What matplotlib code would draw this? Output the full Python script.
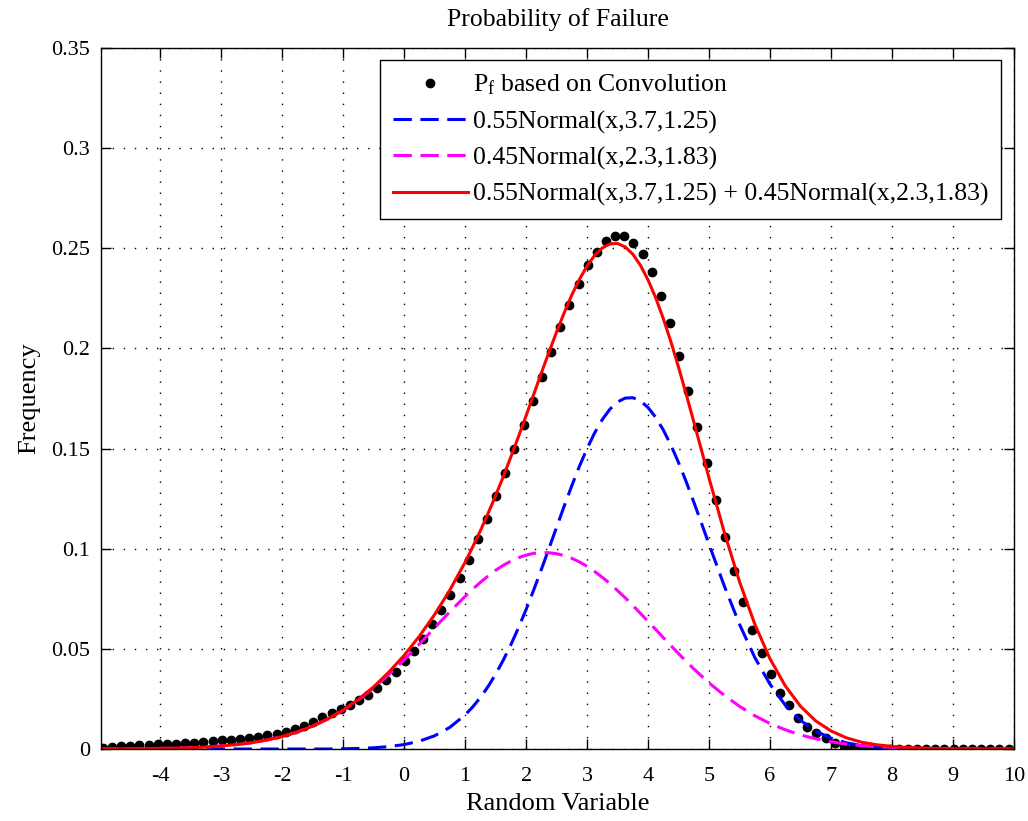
import numpy as np
import matplotlib
matplotlib.use("Agg")
from matplotlib import pyplot as plt

plt.rcParams["font.family"] = ["Liberation Serif", "DejaVu Serif"]
plt.rcParams["mathtext.fontset"] = "custom"
plt.rcParams["mathtext.rm"] = "Liberation Serif"
plt.rcParams["mathtext.it"] = "Liberation Serif:italic"
plt.rcParams["axes.unicode_minus"] = False

# convolution result, one point every 0.15
x_conv = np.linspace(-4.94, 9.91, 100)
pf_conv = [
    0.0004, 0.0012, 0.0015, 0.0017, 0.0019, 0.0021, 0.0023, 0.0025, 0.0027, 0.0029,
    0.0031, 0.0035, 0.0039, 0.0043, 0.0047, 0.0051, 0.0056, 0.0062, 0.0069, 0.0077,
    0.0086, 0.0098, 0.0116, 0.0137, 0.0158, 0.0179, 0.0200, 0.0220, 0.0243, 0.0272,
    0.0306, 0.0345, 0.0386, 0.0437, 0.0488, 0.0550, 0.0622, 0.0696, 0.0770, 0.0852,
    0.0946, 0.1048, 0.1150, 0.1262, 0.1378, 0.1496, 0.1616, 0.1740, 0.1858, 0.1980,
    0.2107, 0.2215, 0.2323, 0.2418, 0.2482, 0.2537, 0.2560, 0.2560, 0.2527, 0.2470,
    0.2382, 0.2260, 0.2127, 0.1963, 0.1790, 0.1610, 0.1428, 0.1242, 0.1058, 0.0887,
    0.0732, 0.0595, 0.0480, 0.0372, 0.0282, 0.0220, 0.0155, 0.0108, 0.0078, 0.0053,
    0.0030, 0.0014, 0.0006, 0.0003, 0.0002, 0.0001, 0.0, 0.0, 0.0, 0.0,
    0.0, 0.0, 0.0, 0.0, 0.0, 0.0, 0.0, 0.0, 0.0, 0.0,
]

# fitted curves: 0.25 steps in the tails, 0.125 steps between 1 and 5
x_fit = np.concatenate([np.linspace(-5, 0.75, 24),
                        np.linspace(1, 5, 33),
                        np.linspace(5.25, 10, 20)])
normal_a = [
    0.0, 0.0, 0.0, 0.0, 0.0, 0.0, 0.0, 0.0, 0.0, 0.0, 0.0, 0.0, 0.0, 0.0, 0.0, 0.0,
    0.0001, 0.0003, 0.0006, 0.0012, 0.0022, 0.0039, 0.0066, 0.0108,
    0.0170, 0.0210, 0.0257, 0.0311, 0.0373, 0.0443, 0.0520, 0.0605, 0.0696, 0.0794,
    0.0896, 0.1001, 0.1107, 0.1213, 0.1315, 0.1412, 0.1500, 0.1579, 0.1645, 0.1697,
    0.1733, 0.1752, 0.1754, 0.1738, 0.1705, 0.1656, 0.1593, 0.1517, 0.1430, 0.1335,
    0.1233, 0.1128, 0.1022,
    0.0814, 0.0622, 0.0457, 0.0323, 0.0219, 0.0143, 0.0089, 0.0054, 0.0031, 0.0017,
    0.0009, 0.0005, 0.0002, 0.0001, 0.0, 0.0, 0.0, 0.0, 0.0, 0.0,
]
normal_b = [
    0.0000, 0.0001, 0.0001, 0.0002, 0.0003, 0.0004, 0.0006, 0.0010, 0.0015, 0.0022,
    0.0031, 0.0045, 0.0062, 0.0085, 0.0114, 0.0150, 0.0193, 0.0245, 0.0304, 0.0372,
    0.0445, 0.0524, 0.0605, 0.0685,
    0.0762, 0.0798, 0.0832, 0.0863, 0.0892, 0.0917, 0.0938, 0.0955, 0.0968, 0.0977,
    0.0981, 0.0980, 0.0975, 0.0966, 0.0952, 0.0934, 0.0912, 0.0886, 0.0857, 0.0826,
    0.0791, 0.0755, 0.0717, 0.0677, 0.0637, 0.0597, 0.0556, 0.0516, 0.0476, 0.0438,
    0.0400, 0.0365, 0.0330,
    0.0268, 0.0213, 0.0166, 0.0127, 0.0096, 0.0070, 0.0051, 0.0036, 0.0025, 0.0017,
    0.0012, 0.0008, 0.0005, 0.0003, 0.0002, 0.0001, 0.0001, 0.0, 0.0, 0.0,
]
mixture = [
    0.0000, 0.0001, 0.0001, 0.0002, 0.0003, 0.0004, 0.0006, 0.0010, 0.0015, 0.0022,
    0.0031, 0.0045, 0.0062, 0.0085, 0.0114, 0.0150, 0.0194, 0.0248, 0.0310, 0.0384,
    0.0467, 0.0563, 0.0671, 0.0793,
    0.0932, 0.1009, 0.1089, 0.1175, 0.1265, 0.1359, 0.1458, 0.1559, 0.1664, 0.1770,
    0.1877, 0.1981, 0.2082, 0.2178, 0.2267, 0.2345, 0.2412, 0.2465, 0.2502, 0.2522,
    0.2524, 0.2507, 0.2471, 0.2415, 0.2342, 0.2253, 0.2149, 0.2033, 0.1906, 0.1772,
    0.1633, 0.1493, 0.1352,
    0.1082, 0.0835, 0.0623, 0.0450, 0.0315, 0.0213, 0.0140, 0.0090, 0.0056, 0.0034,
    0.0021, 0.0013, 0.0007, 0.0004, 0.0002, 0.0001, 0.0001, 0.0, 0.0, 0.0,
]

x_ticks = list(range(-4, 11))
y_ticks = [0, 0.05, 0.1, 0.15, 0.2, 0.25, 0.3, 0.35]
y_ticklabels = ["0", "0.05", "0.1", "0.15", "0.2", "0.25", "0.3", "0.35"]

fig = plt.figure(figsize=(10.28, 8.21), dpi=100)
ax = fig.add_axes([0.0982, 0.0877, 0.8882, 0.8538])

ax.plot(x_conv, pf_conv, "o", color="k", ms=6,
        label=r"P$_\mathrm{f}$ based on Convolution")
ax.plot(x_fit, normal_a, color="#0000ff", lw=2.2, dashes=(6, 2.8),
        label="0.55Normal(x,3.7,1.25)")
ax.plot(x_fit, normal_b, color="#ff00ff", lw=2.2, dashes=(6, 2.8),
        label="0.45Normal(x,2.3,1.83)")
ax.plot(x_fit, mixture, color="#ff0000", lw=2.2,
        label="0.55Normal(x,3.7,1.25) + 0.45Normal(x,2.3,1.83)")

ax.set_xlim(-4.97, 10)
ax.set_ylim(0, 0.35)
ax.set_xticks(x_ticks)
ax.set_yticks(y_ticks)
ax.set_yticklabels(y_ticklabels)
ax.grid(True, color="k", linestyle=(0, (1, 7)), lw=1)
ax.tick_params(direction="in", length=7, width=1, top=True, right=True,
               labelsize=16)
ax.tick_params(axis="x", pad=13)
ax.tick_params(axis="y", pad=8)
for sp in ax.spines.values():
    sp.set_linewidth(1)

ax.set_title("Probability of Failure", fontsize=18.5, pad=16)
ax.set_xlabel("Random Variable", fontsize=19, labelpad=5)
ax.set_ylabel("Frequency", fontsize=19, labelpad=8)

leg = ax.legend(loc="upper right", bbox_to_anchor=(0.9858, 0.983),
                borderaxespad=0, fontsize=18.5, numpoints=1, handlelength=2.9,
                handletextpad=0.2, labelspacing=0.5, borderpad=0.5,
                fancybox=False, framealpha=1, edgecolor="k")
leg.get_frame().set_linewidth(1)

fig.savefig("out.png", dpi=100)
